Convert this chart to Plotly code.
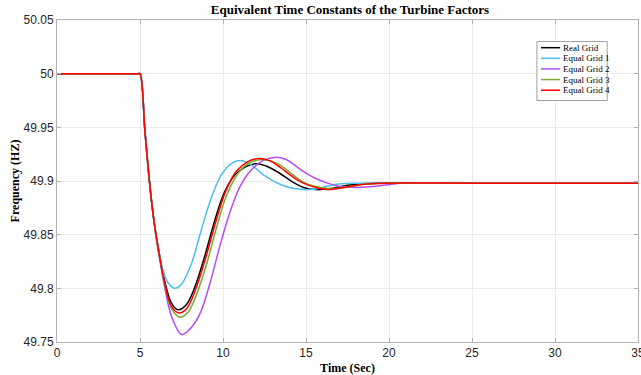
import plotly.graph_objects as go

# ---------------- data ----------------
series_names = ["Real Grid", "Equal Grid 1", "Equal Grid 2", "Equal Grid 3", "Equal Grid 4"]
series_colors = ["#000000", "#4DBEEE", "#B64CF5", "#77AC30", "#FF0000"]

real_t = [0, 4.5, 4.9, 5, 5.3, 5.6, 5.85, 6.1, 6.5, 6.9, 7.31, 7.8, 8.3, 8.9, 9.5, 10.1,
          10.8, 11.93, 12.6, 13.43, 14.2, 14.84, 15.6, 16.5, 17.5, 19, 25, 35]
real_v = [50, 50, 50, 50, 49.946, 49.895, 49.862, 49.838, 49.806, 49.786, 49.780, 49.785,
          49.801, 49.830, 49.863, 49.890, 49.907, 49.916, 49.914, 49.907, 49.899, 49.894,
          49.892, 49.893, 49.896, 49.898, 49.898, 49.898]

eq1_t = [0, 4.5, 4.9, 5, 5.3, 5.6, 5.85, 6.1, 6.4, 6.7, 7.11, 7.5, 8.1, 8.61, 9.2, 9.8,
         10.4, 11.05, 11.7, 12.5, 13.43, 14.3, 15.2, 16.0, 16.8, 18, 25, 35]
eq1_v = [50, 50, 50, 50, 49.946, 49.895, 49.862, 49.836, 49.816, 49.805, 49.800, 49.804,
         49.823, 49.850, 49.880, 49.903, 49.915, 49.919, 49.915, 49.905, 49.897, 49.893,
         49.892, 49.894, 49.897, 49.898, 49.898, 49.898]

eq2_t = [0, 4.5, 4.9, 5, 5.3, 5.6, 5.85, 6.1, 6.5, 6.9, 7.51, 8.0, 8.6, 9.22, 9.82, 10.4,
         11.0, 11.63, 12.4, 13.1, 13.8, 14.64, 15.5, 16.3, 17.05, 18.05, 19.2, 20.7, 25, 35]
eq2_v = [50, 50, 50, 50, 49.946, 49.895, 49.861, 49.835, 49.800, 49.774, 49.757, 49.762,
         49.776, 49.805, 49.840, 49.870, 49.894, 49.909, 49.919, 49.922, 49.920, 49.911,
         49.903, 49.898, 49.895, 49.894, 49.895, 49.898, 49.898, 49.898]

eq3_t = [0, 4.5, 4.9, 5, 5.3, 5.6, 5.85, 6.1, 6.5, 6.9, 7.41, 7.9, 8.4, 9.0, 9.6, 10.2,
         10.9, 11.6, 12.35, 13.0, 13.43, 14.2, 14.84, 15.6, 16.4, 17.3, 18.5, 20, 25, 35]
eq3_v = [50, 50, 50, 50, 49.946, 49.895, 49.862, 49.837, 49.803, 49.781, 49.773, 49.778,
         49.794, 49.822, 49.856, 49.886, 49.907, 49.917, 49.920, 49.918, 49.915, 49.906,
         49.899, 49.895, 49.893, 49.894, 49.897, 49.898, 49.898, 49.898]

eq4_t = [0, 4.5, 4.9, 5, 5.3, 5.6, 5.85, 6.1, 6.5, 6.9, 7.37, 7.85, 8.35, 8.95, 9.55,
         10.15, 10.8, 11.5, 12.15, 12.8, 13.43, 14.2, 14.84, 15.6, 16.4, 17.3, 18.5, 19.7,
         25, 35]
eq4_v = [50, 50, 50, 50, 49.946, 49.895, 49.862, 49.837, 49.804, 49.783, 49.777, 49.782,
         49.799, 49.828, 49.861, 49.890, 49.909, 49.918, 49.921, 49.919, 49.913, 49.904,
         49.898, 49.894, 49.892, 49.894, 49.897, 49.898, 49.898, 49.898]

x_tick_vals = [0, 5, 10, 15, 20, 25, 30, 35]
x_tick_text = ["0", "5", "10", "15", "20", "25", "30", "35"]
y_tick_vals = [49.75, 49.8, 49.85, 49.9, 49.95, 50, 50.05]
y_tick_text = ["49.75", "49.8", "49.85", "49.9", "49.95", "50", "50.05"]

title_text = "Equivalent Time Constants of the Turbine Factors"
x_title = "Time (Sec)"
y_title = "Frequency (HZ)"

# ---------------- figure ----------------
all_t = [real_t, eq1_t, eq2_t, eq3_t, eq4_t]
all_v = [real_v, eq1_v, eq2_v, eq3_v, eq4_v]

fig = go.Figure()
for name, color, t, v in zip(series_names, series_colors, all_t, all_v):
    fig.add_trace(go.Scatter(x=t, y=v, mode="lines", name=name,
                             line=dict(color=color, width=1.5, shape="spline", smoothing=1),
                             showlegend=False, hoverinfo="skip"))

axis_gray = "#b3b3b3"
tick_font = dict(family="Liberation Sans, Arial, sans-serif", size=12, color="#262626")
serif_bold = dict(family="Liberation Serif, Times New Roman, serif", size=12, color="#000000")
title_font = dict(family="Liberation Serif, Times New Roman, serif", size=13, color="#000000")

fig.update_layout(
    width=641, height=375,
    margin=dict(l=57, r=3, t=20, b=33),
    paper_bgcolor="white", plot_bgcolor="white",
    title=dict(text="<b>" + title_text + "</b>", x=0.546, xanchor="center",
               y=0.975, yanchor="middle", font=title_font),
    xaxis=dict(range=[0, 35], tickvals=x_tick_vals, ticktext=x_tick_text,
               showgrid=True, gridcolor="#ebebeb", gridwidth=1,
               showline=True, linecolor=axis_gray, linewidth=1, mirror="ticks",
               ticks="inside", ticklen=4, tickcolor=axis_gray, automargin=False,
               tickfont=tick_font, zeroline=False, ticklabeloverflow="allow",
               title=dict(text="<b>" + x_title + "</b>", font=serif_bold, standoff=6)),
    yaxis=dict(range=[49.75, 50.05], tickvals=y_tick_vals, ticktext=y_tick_text,
               showgrid=True, gridcolor="#ebebeb", gridwidth=1,
               showline=True, linecolor=axis_gray, linewidth=1, mirror="ticks",
               ticks="inside", ticklen=4, tickcolor=axis_gray, automargin=False,
               tickfont=tick_font, zeroline=False, ticklabeloverflow="allow",
               title=dict(text="<b>" + y_title + "</b>", font=serif_bold, standoff=1)),
)

# ---------------- legend (drawn in paper coordinates) ----------------
box = dict(x0=0.826, x1=0.947, y0=0.750, y1=0.933)
fig.add_shape(type="rect", xref="paper", yref="paper", **box,
              line=dict(color="#a0a0a0", width=1), fillcolor="white", layer="above")
row_y = [0.914, 0.881, 0.848, 0.815, 0.782]
for name, color, yy in zip(series_names, series_colors, row_y):
    fig.add_shape(type="line", xref="paper", yref="paper", x0=0.833, x1=0.866, y0=yy, y1=yy,
                  line=dict(color=color, width=1.5), layer="above")
    fig.add_annotation(xref="paper", yref="paper", x=0.867, y=yy, text=name,
                       xanchor="left", yanchor="middle", showarrow=False,
                       font=dict(family="Liberation Serif, Times New Roman, serif", size=9,
                                 color="#000000"))

fig.write_html("out.html", config={"displayModeBar": False},
               post_script="document.body.style.margin='0';document.body.style.overflow='hidden';")
